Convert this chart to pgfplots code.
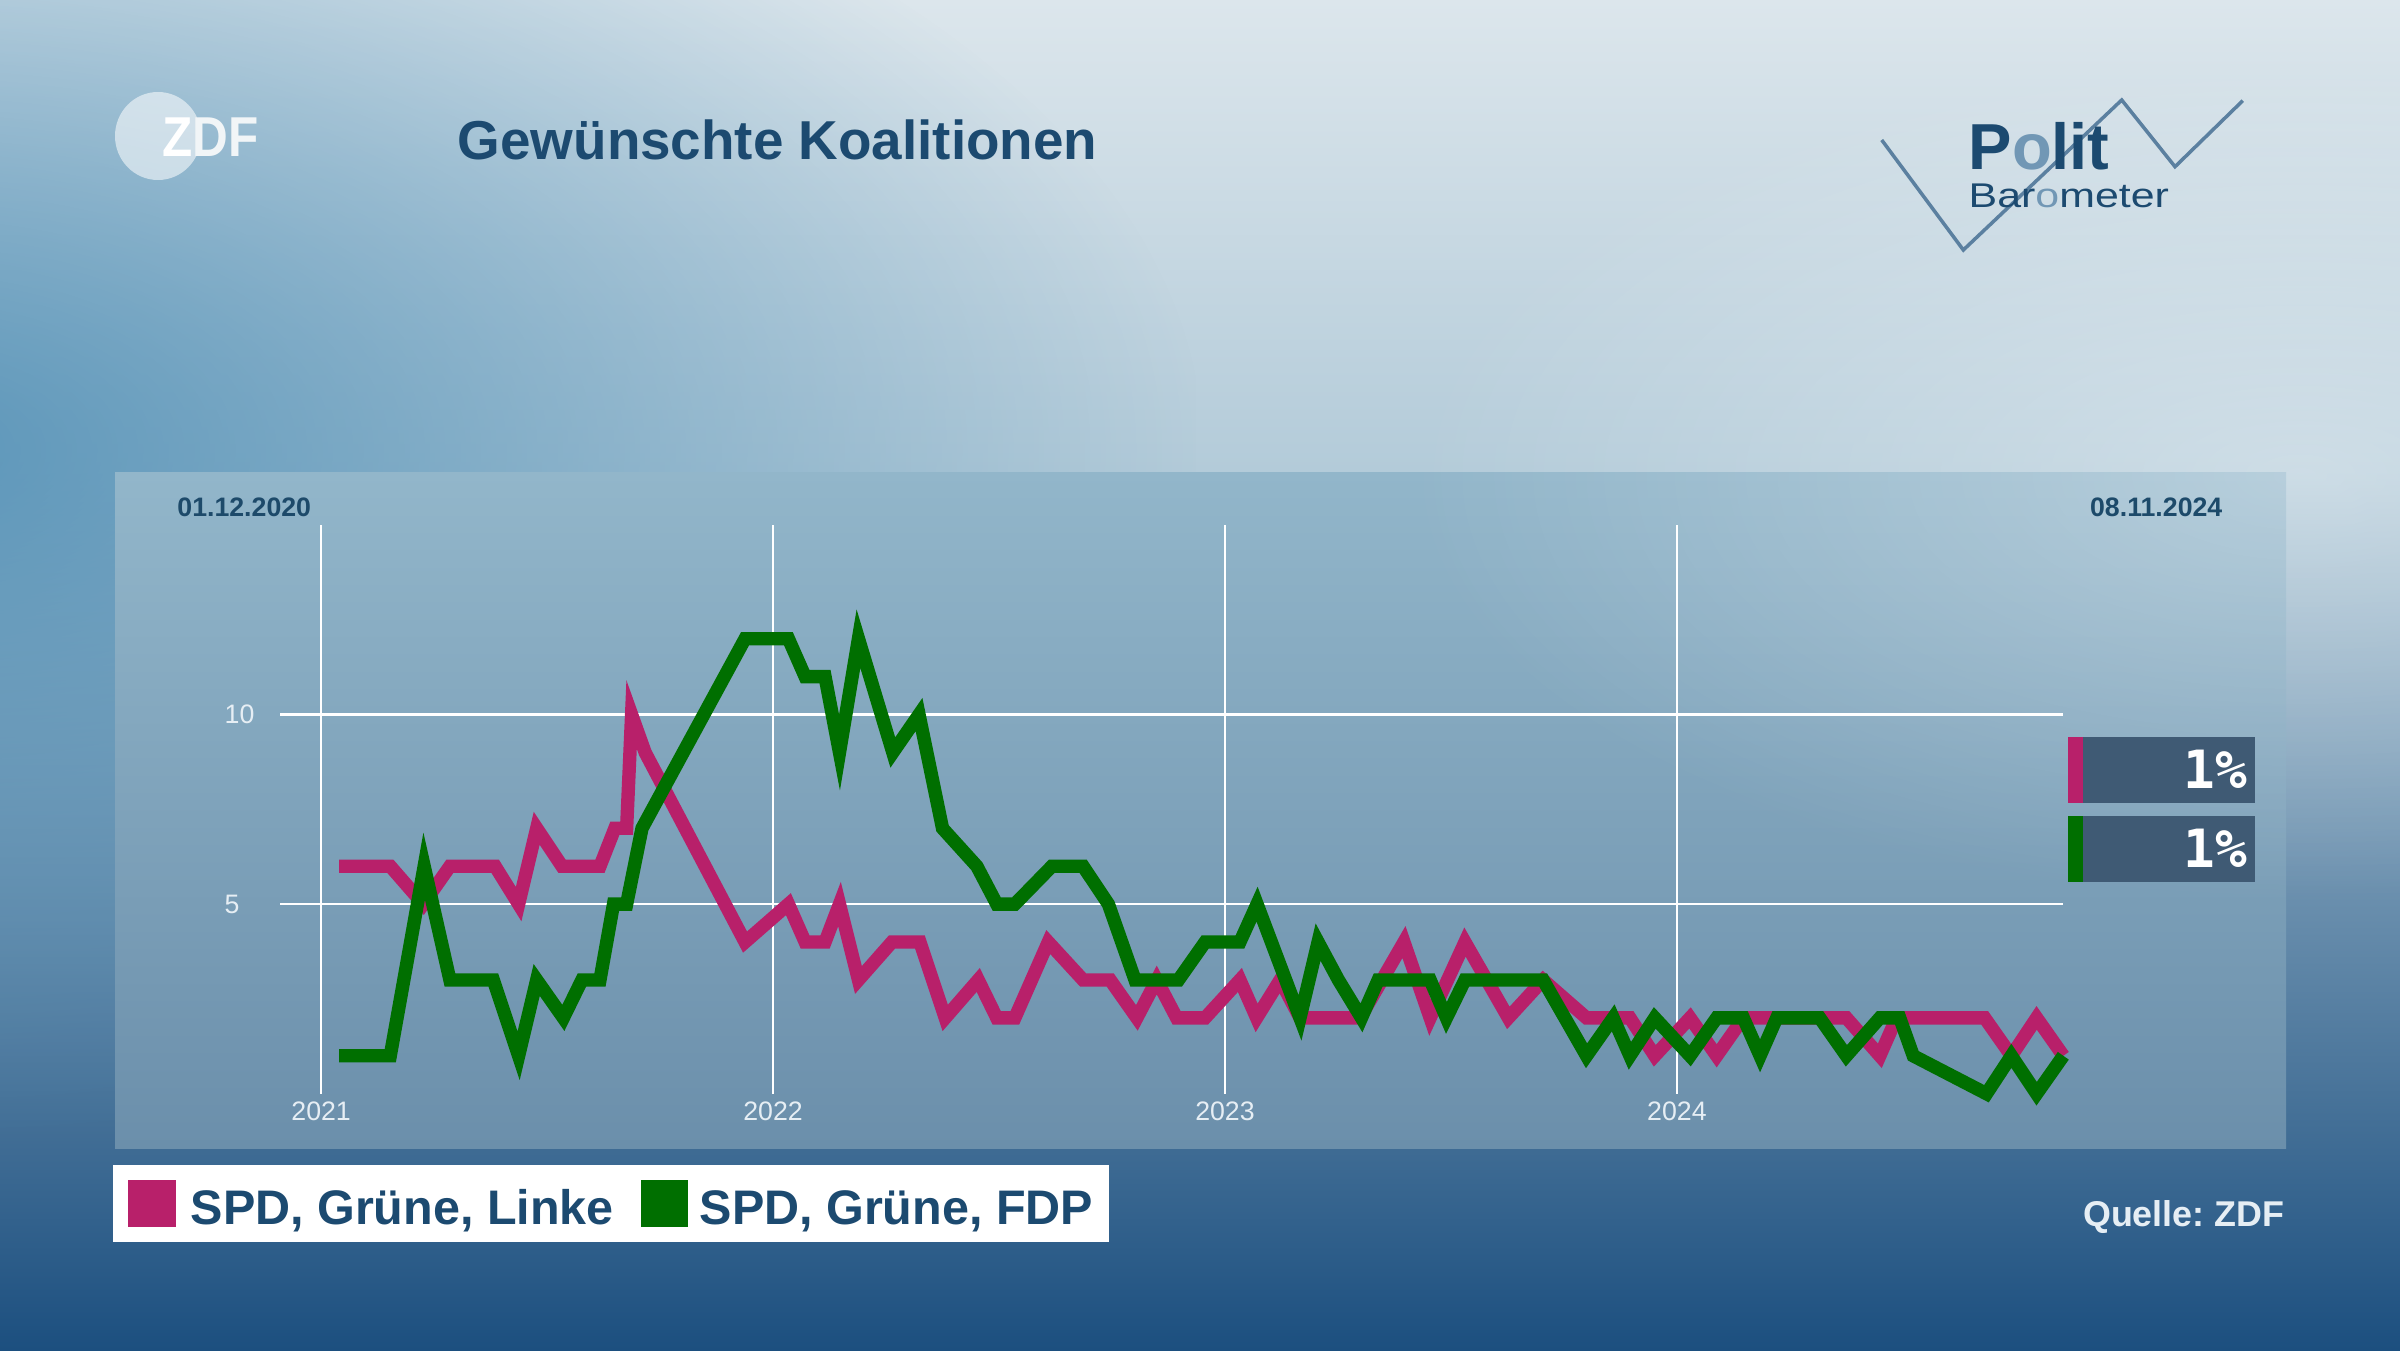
\documentclass[border=0pt]{standalone}
\usepackage{pgfplots}
\pgfplotsset{compat=1.18}
\usepackage{pgfplotstable}
\usepackage{fontspec}
\setmainfont{Liberation Sans}
\newfontfamily\monof{DejaVu Sans Mono}
\usetikzlibrary{fadings}

\definecolor{linkec}{HTML}{B8206A}
\definecolor{fdpc}{HTML}{006F00}
\definecolor{navy}{HTML}{1C4A70}
\definecolor{datec}{HTML}{1D4A6A}
\definecolor{tickc}{HTML}{E6EEF4}
\definecolor{boxc}{HTML}{3F5A74}
\definecolor{bgtop}{HTML}{DCE6EC}
\definecolor{bgmid}{HTML}{B3CBD9}
\definecolor{bgmid2}{HTML}{3D7099}
\definecolor{bgbot}{HTML}{1C4F7F}
\definecolor{leftblue}{HTML}{5290B6}
\definecolor{paneltop}{HTML}{92B6CA}
\definecolor{panelbot}{HTML}{6B8FAB}
\definecolor{logoline}{HTML}{5B80A0}
\definecolor{logolight}{HTML}{7197B5}

\tikzfading[name=blob, inner color=transparent!0, outer color=transparent!100]

% Wunschkoalition SPD, Gruene, Linke (Prozent)
\pgfplotstableread{
x y
2021.040 6
2021.153 6
2021.226 5
2021.285 6
2021.385 6
2021.437 5
2021.477 7
2021.533 6
2021.617 6
2021.650 7
2021.676 7
2021.687 10
2021.717 9
2021.938 4
2022.034 5
2022.071 4
2022.115 4
2022.147 5
2022.189 3
2022.263 4
2022.325 4
2022.381 2
2022.454 3
2022.495 2
2022.535 2
2022.609 4
2022.686 3
2022.746 3
2022.805 2
2022.849 3
2022.893 2
2022.956 2
2023.033 3
2023.070 2
2023.122 3
2023.166 2
2023.299 2
2023.396 4
2023.454 2
2023.531 4
2023.627 2
2023.704 3
2023.800 2
2023.896 2
2023.951 1
2024.029 2
2024.088 1
2024.147 2
2024.375 2
2024.449 1
2024.486 2
2024.681 2
2024.740 1
2024.796 2
2024.855 1
}\linke

% Wunschkoalition SPD, Gruene, FDP (Prozent)
\pgfplotstableread{
x y
2021.040 1
2021.153 1
2021.228 6
2021.285 3
2021.381 3
2021.437 1
2021.477 3
2021.536 2
2021.577 3
2021.617 3
2021.647 5
2021.676 5
2021.710 7
2021.938 12
2022.034 12
2022.071 11
2022.115 11
2022.147 9
2022.189 12
2022.265 9
2022.323 10
2022.375 7
2022.451 6
2022.495 5
2022.535 5
2022.617 6
2022.686 6
2022.742 5
2022.801 3
2022.897 3
2022.956 4
2023.033 4
2023.071 5
2023.166 2
2023.206 4
2023.251 3
2023.302 2
2023.339 3
2023.454 3
2023.490 2
2023.531 3
2023.704 3
2023.800 1
2023.859 2
2023.896 1
2023.951 2
2024.029 1
2024.088 2
2024.147 2
2024.184 1
2024.221 2
2024.316 2
2024.375 1
2024.449 2
2024.493 2
2024.523 1
2024.685 0
2024.740 1
2024.796 0
2024.855 1
}\fdp

\begin{document}
\begin{tikzpicture}
\useasboundingbox (0,0) rectangle (24,13.5);
\begin{scope}
\clip (0,0) rectangle (24,13.5);
% background
\shade[top color=bgmid, middle color=bgmid2, bottom color=bgbot] (0,0) rectangle (24,8.8);
\shade[top color=bgtop, bottom color=bgmid] (0,8.8) rectangle (24,13.5);
\fill[leftblue, fill opacity=0.9, path fading=blob, fit fading=true] (-14,2) rectangle (12,16);
% panel
\shade[top color=paneltop, bottom color=panelbot] (1.15,2.02) rectangle (22.86,8.78);
\fill[white, fill opacity=0.35, path fading=blob, fit fading=true] (14,4.5) rectangle (32,13);
\end{scope}

% ZDF logo
\fill[white, opacity=0.55] (1.58,12.14) ellipse (0.43 and 0.44);
\node[anchor=base west, inner sep=0, text=white] at (1.62,11.93)
  {\fontsize{16}{18}\selectfont\bfseries\scalebox{0.88}[1]{Z\textcolor{white!60!bgtop}{DF}}};

% title
\node[anchor=base west, inner sep=0, text=navy] at (4.57,11.90)
  {\fontsize{15.6}{18}\selectfont\bfseries Gewünschte Koalitionen};

% Politbarometer logo
\draw[logoline, line width=1pt] (18.817,12.10) -- (19.633,11.0) -- (21.217,12.5) -- (21.75,11.833) -- (22.427,12.493);
\node[anchor=base west, inner sep=0, text=navy] at (19.68,11.80)
  {\fontsize{18.5}{20}\selectfont\bfseries P\textcolor{logolight}{o}lit};
\node[anchor=base west, inner sep=0, text=navy] at (19.68,11.42)
  {\fontsize{12.2}{14}\selectfont\scalebox{1}[0.8]{Bar\textcolor{logolight}{o}meter}};

% dates
\node[anchor=base west, inner sep=0, text=datec] at (1.767,8.34)
  {\fontsize{7.6}{9}\selectfont\bfseries 01.12.2020};
\node[anchor=base east, inner sep=0, text=datec] at (22.23,8.34)
  {\fontsize{7.6}{9}\selectfont\bfseries 08.11.2024};

\begin{axis}[
  at={(2.80cm,2.563cm)}, anchor=south west,
  scale only axis, width=17.833cm, height=5.687cm,
  xmin=2020.909, xmax=2024.855, ymin=0, ymax=15,
  xtick={2021,2022,2023,2024}, xticklabels={2021,2022,2023,2024},
  ytick={5,10}, yticklabels={5,10},
  grid=major, major grid style={white, line width=0.7pt},
  axis line style={draw=none}, major tick length=0pt,
  tick label style={font=\fontsize{7.6}{9}\selectfont, text=tickc},
  xticklabel style={anchor=north, inner sep=0pt, yshift=-0.07cm},
  yticklabel style={anchor=west, inner sep=0pt, xshift=-0.56cm},
  clip=false,
]
\addplot[linkec, line width=3.8pt] table {\linke};
\addplot[fdpc, line width=3.8pt] table {\fdp};
\end{axis}

% current values
\fill[boxc] (20.677,5.473) rectangle (22.55,6.133);
\fill[linkec] (20.677,5.473) rectangle (20.827,6.133);
\node[anchor=east, inner sep=0, text=white] at (22.48,5.803)
  {\fontsize{15}{17}\selectfont\monof\bfseries 1\%};
\fill[boxc] (20.677,4.683) rectangle (22.55,5.343);
\fill[fdpc] (20.677,4.683) rectangle (20.827,5.343);
\node[anchor=east, inner sep=0, text=white] at (22.48,5.013)
  {\fontsize{15}{17}\selectfont\monof\bfseries 1\%};

% legend
\fill[white] (1.134,1.08) rectangle (11.09,1.85);
\fill[linkec] (1.28,1.23) rectangle (1.757,1.70);
\node[anchor=base west, inner sep=0, text=navy] at (1.90,1.26)
  {\fontsize{13.8}{16}\selectfont\bfseries SPD, Grüne, Linke};
\fill[fdpc] (6.405,1.23) rectangle (6.88,1.70);
\node[anchor=base west, inner sep=0, text=navy] at (6.99,1.26)
  {\fontsize{13.8}{16}\selectfont\bfseries SPD, Grüne, FDP};

% source
\node[anchor=base east, inner sep=0, text=tickc] at (22.85,1.24)
  {\fontsize{10.2}{12}\selectfont\bfseries Quelle:\ ZDF};
\end{tikzpicture}
\end{document}
